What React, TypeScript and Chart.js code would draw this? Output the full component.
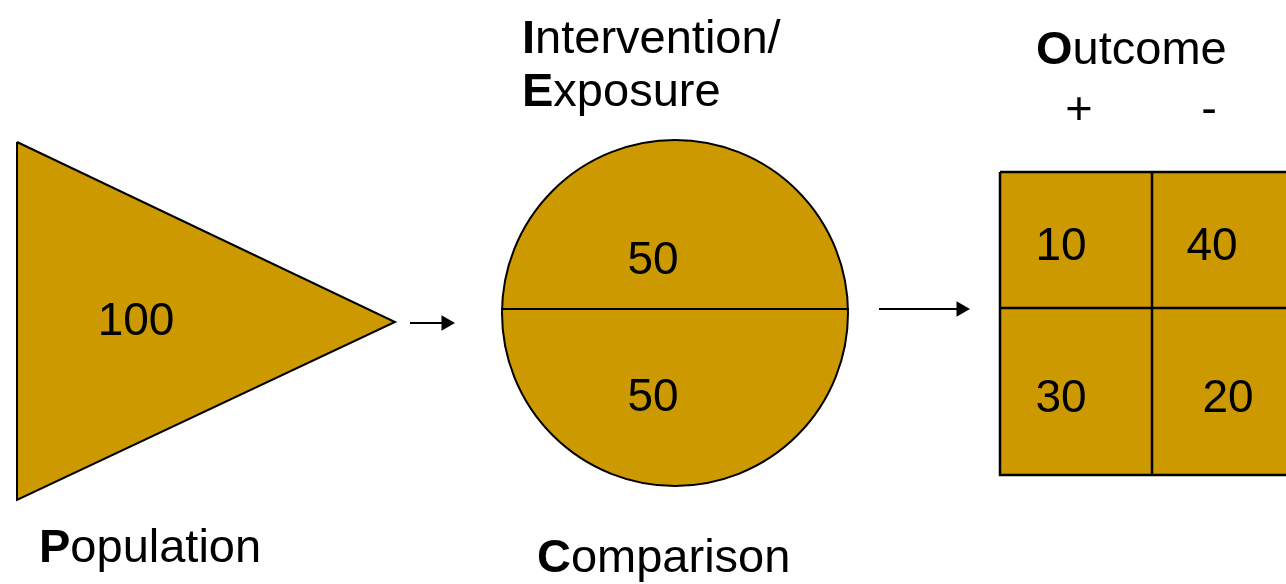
import React, { useEffect, useRef } from 'react';
import { Chart, registerables } from 'chart.js';

Chart.register(...registerables);

const FILL = '#CC9900';
const FONT = '"Liberation Sans", Arial, sans-serif';

// Population triangle
const triangleX = [17, 395, 17, 17];
const triangleY = [142, 322, 500, 142];

// Intervention / comparison circle
const circleX = [675];
const circleY = [313];
const circleR = [173];
const chordX = [501, 849];
const chordY = [309, 309];

// Outcome 2x2 table
const gridX = [1000, 1305, 1305, 1000, 1000];
const gridY = [172, 172, 475, 475, 172];
const gridVX = [1152, 1152];
const gridVY = [172, 475];
const gridHX = [1000, 1305];
const gridHY = [308, 308];

// Arrows (last point = arrowhead centre)
const arrow1X = [410, 446];
const arrow1Y = [323, 323];
const arrow2X = [879, 961];
const arrow2Y = [309, 309];

// Counts
const countLabels = ['100', '50', '50', '10', '40', '30', '20'];
const countX = [136, 653, 653, 1061, 1212, 1061, 1228];
const countY = [335, 274, 411, 260, 260, 412, 412];

// Titles: bold first letter + rest
const titleBold = ['I', 'E', 'O', 'P', 'C'];
const titleRest = ['ntervention/', 'xposure', 'utcome', 'opulation', 'omparison'];
const titleX = [522, 522, 1036, 39, 537];
const titleY = [53, 106, 64, 562, 572];

// Outcome signs
const signLabels = ['+', '-'];
const signX = [1079, 1209];
const signY = [124, 124];

const pts = (xs: number[], ys: number[]) => xs.map((x, i) => ({ x, y: ys[i] }));

const textPlugin = {
  id: 'picoText',
  afterDatasetsDraw(chart: any) {
    const { ctx, scales } = chart;
    const sx = scales.x;
    const sy = scales.y;
    ctx.save();
    ctx.fillStyle = '#000';
    ctx.textBaseline = 'alphabetic';
    ctx.textAlign = 'center';
    ctx.font = `46px ${FONT}`;
    countLabels.forEach((t, i) => {
      ctx.fillText(t, sx.getPixelForValue(countX[i]), sy.getPixelForValue(countY[i]));
    });
    ctx.font = `47px ${FONT}`;
    signLabels.forEach((t, i) => {
      ctx.fillText(t, sx.getPixelForValue(signX[i]), sy.getPixelForValue(signY[i]));
    });
    ctx.textAlign = 'left';
    titleBold.forEach((b, i) => {
      const px = sx.getPixelForValue(titleX[i]);
      const py = sy.getPixelForValue(titleY[i]);
      ctx.font = `bold 47px ${FONT}`;
      ctx.fillText(b, px, py);
      const w = ctx.measureText(b).width;
      ctx.font = `47px ${FONT}`;
      ctx.fillText(titleRest[i], px + w, py);
    });
    ctx.restore();
  },
};

export default function App() {
  const ref = useRef<HTMLCanvasElement | null>(null);

  useEffect(() => {
    if (!ref.current) return;
    const shape = (xs: number[], ys: number[], order: number, bw = 2) => ({
      type: 'line' as const,
      data: pts(xs, ys),
      showLine: true,
      fill: 'shape',
      backgroundColor: FILL,
      borderColor: '#000',
      borderWidth: bw,
      pointRadius: 0,
      tension: 0,
      order,
    });
    const line = (xs: number[], ys: number[], order: number, bw = 2) => ({
      type: 'line' as const,
      data: pts(xs, ys),
      showLine: true,
      fill: false,
      borderColor: '#000',
      borderWidth: bw,
      pointRadius: 0,
      tension: 0,
      order,
    });
    const arrow = (xs: number[], ys: number[], order: number) => ({
      type: 'line' as const,
      data: pts(xs, ys),
      showLine: true,
      fill: false,
      borderColor: '#000',
      borderWidth: 2,
      pointRadius: [0, 9],
      pointStyle: 'triangle',
      rotation: 90,
      pointBackgroundColor: '#000',
      pointBorderColor: '#000',
      pointBorderWidth: 0,
      tension: 0,
      order,
    });

    const chart = new Chart(ref.current, {
      type: 'scatter',
      data: {
        datasets: [
          shape(triangleX, triangleY, 10, 2),
          {
            type: 'bubble' as const,
            data: circleX.map((x, i) => ({ x, y: circleY[i], r: circleR[i] })),
            backgroundColor: FILL,
            borderColor: '#000',
            borderWidth: 2,
            order: 9,
          } as any,
          line(chordX, chordY, 8, 2),
          shape(gridX, gridY, 7, 2.5),
          line(gridVX, gridVY, 6, 2.5),
          line(gridHX, gridHY, 5, 2.5),
          arrow(arrow1X, arrow1Y, 4),
          arrow(arrow2X, arrow2Y, 3),
        ] as any,
      },
      options: {
        animation: false,
        responsive: false,
        events: [],
        layout: { padding: 0, autoPadding: false },
        plugins: { legend: { display: false }, tooltip: { enabled: false } },
        scales: {
          x: { type: 'linear', min: 0, max: 1286, display: false },
          y: { type: 'linear', min: 0, max: 584, reverse: true, display: false },
        },
      } as any,
      plugins: [textPlugin],
    });
    return () => chart.destroy();
  }, []);

  return (
    <div style={{ position: 'fixed', left: 0, top: 0, width: 1286, height: 584, background: '#fff' }}>
      <canvas ref={ref} width={1286} height={584} style={{ display: 'block' }} />
    </div>
  );
}
